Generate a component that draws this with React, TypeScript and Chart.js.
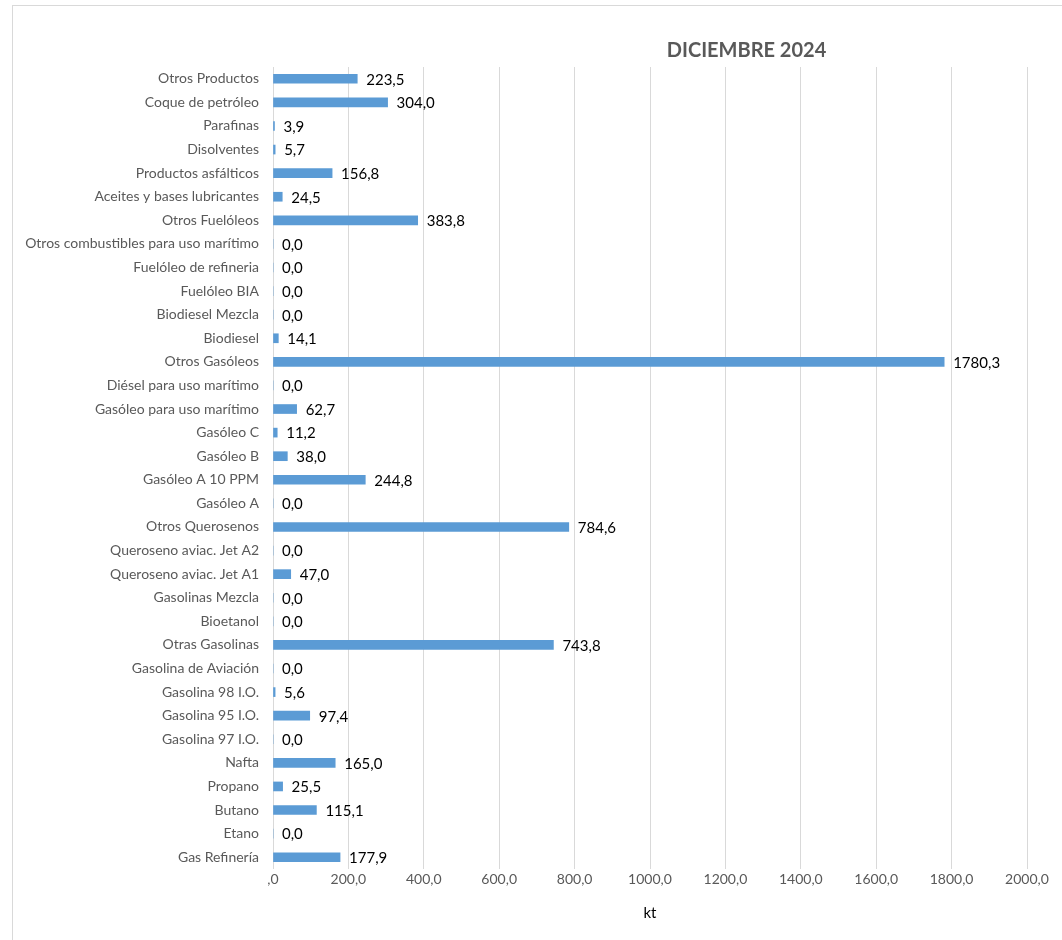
import React, { useEffect, useRef } from "react";
import { Chart, registerables } from "chart.js";

Chart.register(...registerables);

const chartTitle = "DICIEMBRE 2024";
const axisTitle = "kt";

const categories = [
  "Otros Productos",
  "Coque de petróleo",
  "Parafinas",
  "Disolventes",
  "Productos asfálticos",
  "Aceites y bases lubricantes",
  "Otros Fuelóleos",
  "Otros combustibles para uso marítimo",
  "Fuelóleo de refineria",
  "Fuelóleo BIA",
  "Biodiesel Mezcla",
  "Biodiesel",
  "Otros Gasóleos",
  "Diésel para uso marítimo",
  "Gasóleo para uso marítimo",
  "Gasóleo C",
  "Gasóleo B",
  "Gasóleo A 10 PPM",
  "Gasóleo A",
  "Otros Querosenos",
  "Queroseno aviac. Jet A2",
  "Queroseno aviac. Jet A1",
  "Gasolinas Mezcla",
  "Bioetanol",
  "Otras Gasolinas",
  "Gasolina de Aviación",
  "Gasolina 98 I.O.",
  "Gasolina 95 I.O.",
  "Gasolina 97 I.O.",
  "Nafta",
  "Propano",
  "Butano",
  "Etano",
  "Gas Refinería",
];

const values = [
  223.5, 304.0, 3.9, 5.7, 156.8, 24.5, 383.8, 0, 0, 0, 0, 14.1, 1780.3, 0, 62.7,
  11.2, 38.0, 244.8, 0, 784.6, 0, 47.0, 0, 0, 743.8, 0, 5.6, 97.4, 0, 165.0, 25.5,
  115.1, 0, 177.9,
];

const xTickValues = [0, 200, 400, 600, 800, 1000, 1200, 1400, 1600, 1800, 2000];
const xTickLabels = [
  ",0",
  "200,0",
  "400,0",
  "600,0",
  "800,0",
  "1000,0",
  "1200,0",
  "1400,0",
  "1600,0",
  "1800,0",
  "2000,0",
];

const FONT = "Lato, 'Open Sans', sans-serif";

const fmt = (v: number) => v.toFixed(1).replace(".", ",");

const dataLabelPlugin = {
  id: "dataLabels",
  afterDatasetsDraw(chart: any) {
    const ctx = chart.ctx;
    const meta = chart.getDatasetMeta(0);
    ctx.save();
    ctx.font = `15px ${FONT}`;
    ctx.fillStyle = "#000000";
    ctx.textAlign = "left";
    ctx.textBaseline = "middle";
    meta.data.forEach((bar: any, i: number) => {
      const v = chart.data.datasets[0].data[i] as number;
      ctx.fillText(fmt(v), bar.x + 9, bar.y + 1);
    });
    ctx.restore();
  },
};

const titlePlugin = {
  id: "customTitle",
  afterDraw(chart: any) {
    const ctx = chart.ctx;
    const { left, right, top } = chart.chartArea;
    ctx.save();
    ctx.font = `bold 20px ${FONT}`;
    ctx.fillStyle = "#595959";
    ctx.textAlign = "center";
    ctx.textBaseline = "middle";
    ctx.fillText(chartTitle, left + (right - left) * 0.628, top - 16);
    ctx.restore();
  },
};

export default function App() {
  const canvasRef = useRef<HTMLCanvasElement | null>(null);

  useEffect(() => {
    if (!canvasRef.current) return;
    const chart = new Chart(canvasRef.current, {
      type: "bar",
      data: {
        labels: categories,
        datasets: [
          {
            data: values,
            backgroundColor: "#5b9bd5",
            borderWidth: 0,
            barThickness: 9,
          },
        ],
      },
      options: {
        indexAxis: "y",
        animation: false,
        responsive: false,
        maintainAspectRatio: false,
        layout: { padding: { top: 61, right: 66, bottom: 0, left: 0 } },
        plugins: {
          legend: { display: false },
          title: { display: false },
          tooltip: { enabled: false },
        },
        scales: {
          x: {
            type: "linear",
            min: 0,
            max: 2000,
            afterBuildTicks: (scale: any) => {
              scale.ticks = xTickValues.map((v) => ({ value: v }));
            },
            afterFit: (scale: any) => {
              scale.height = 67;
            },
            grid: { color: "#d9d9d9", lineWidth: 1, drawTicks: false },
            border: { display: false },
            ticks: {
              padding: 2,
              color: "#595959",
              font: { family: FONT, size: 14 },
              callback: (_v: any, i: number) => xTickLabels[i],
            },
            title: {
              display: true,
              text: axisTitle,
              color: "#000000",
              font: { family: FONT, size: 15 },
              padding: { top: 0, bottom: 14 },
            },
          },
          y: {
            afterFit: (scale: any) => {
              scale.width = 260;
            },
            grid: { display: false, drawTicks: false },
            border: { display: false },
            ticks: {
              padding: 14,
              color: "#595959",
              font: { family: FONT, size: 14 },
              autoSkip: false,
            },
          },
        },
      },
      plugins: [dataLabelPlugin, titlePlugin],
    });
    return () => chart.destroy();
  }, []);

  return (
    <div
      style={{
        position: "fixed",
        left: 0,
        top: 0,
        width: 1062,
        height: 940,
        overflow: "hidden",
        background: "#ffffff",
      }}
    >
      <div
        style={{
          position: "absolute",
          left: 12,
          top: 5,
          width: 1080,
          height: 960,
          border: "1px solid #d9d9d9",
          background: "#ffffff",
        }}
      >
        <canvas ref={canvasRef} width={1080} height={930} style={{ display: "block" }} />
      </div>
    </div>
  );
}
